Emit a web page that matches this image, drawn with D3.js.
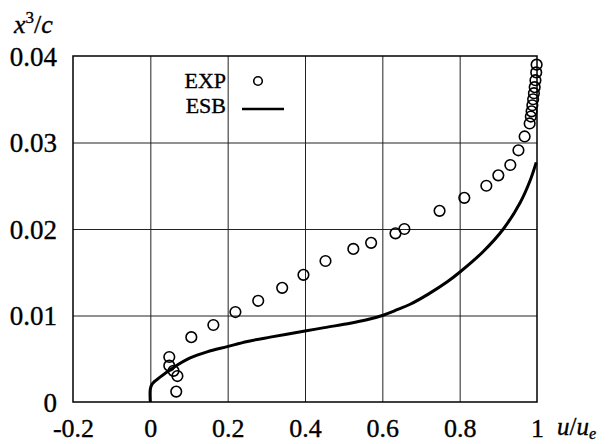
<!DOCTYPE html>
<html>
<head>
<meta charset="utf-8">
<script src="https://cdn.jsdelivr.net/npm/d3@7"></script>
<style>
  html, body { margin: 0; padding: 0; background: #fff; }
  svg { display: block; }
  text { font-family: "Liberation Serif", "Times New Roman", serif; fill: #000; stroke: #000; stroke-width: 0.35px; }
</style>
</head>
<body>
<svg id="chart" width="610" height="444"></svg>
<script>
// Velocity profile: experiment vs. ESB computation
const xTicks = [-0.2, 0, 0.2, 0.4, 0.6, 0.8, 1];
const xTickLabels = ["-0.2", "0", "0.2", "0.4", "0.6", "0.8", "1"];
const yTicks = [0, 0.01, 0.02, 0.03, 0.04];
const yTickLabels = ["0", "0.01", "0.02", "0.03", "0.04"];
const seriesNames = ["EXP", "ESB"];

// EXP measurements (u/ue, x3/c)
const expU = [0.067, 0.070, 0.060, 0.049, 0.049, 0.106, 0.163, 0.220, 0.279, 0.341, 0.396,
              0.453, 0.525, 0.571, 0.634, 0.657, 0.748, 0.812, 0.869, 0.900, 0.931, 0.952,
              0.968, 0.981, 0.984, 0.986, 0.988, 0.990, 0.992, 0.994, 0.996, 0.998, 0.999];
const expY = [0.0012, 0.0030, 0.0036, 0.0042, 0.0052, 0.0075, 0.0089, 0.0104, 0.0117, 0.0132, 0.0147,
              0.0163, 0.0177, 0.0184, 0.0195, 0.0200, 0.0221, 0.0236, 0.0250, 0.0262, 0.0274, 0.0291,
              0.0307, 0.0322, 0.0330, 0.0336, 0.0343, 0.0350, 0.0357, 0.0364, 0.0372, 0.0381, 0.0390];

// ESB computed profile
const esbU = [0.000, 0.000, 0.005, 0.026, 0.060, 0.103, 0.147, 0.199, 0.251, 0.310, 0.400,
              0.450, 0.517, 0.560, 0.600, 0.640, 0.672, 0.720, 0.768, 0.800, 0.861, 0.913,
              0.957, 0.983, 0.998];
const esbY = [0.0000, 0.0015, 0.0021, 0.0029, 0.0040, 0.0051, 0.0058, 0.0064, 0.0070, 0.0075, 0.0082,
              0.0086, 0.0091, 0.0095, 0.0100, 0.0107, 0.0113, 0.0125, 0.0139, 0.0150, 0.0174, 0.0200,
              0.0231, 0.0257, 0.0277];

const svg = d3.select("#chart");
const plotL = 73, plotR = 537, plotT = 56, plotB = 402;
const serif = "'Liberation Serif', 'Times New Roman', serif";

const x = d3.scaleLinear().domain([-0.2, 1]).range([plotL, plotR]);
const y = d3.scaleLinear().domain([0, 0.04]).range([plotB, plotT]);

// grid
const grid = svg.append("g").attr("class", "grid");
grid.append("g")
  .attr("transform", `translate(0,${plotB})`)
  .call(d3.axisBottom(x).tickValues(xTicks.slice(1, -1)).tickSize(-(plotB - plotT)).tickFormat(""))
  .call(g => g.select(".domain").remove())
  .call(g => g.selectAll("line").attr("stroke", "#222").attr("stroke-width", 1));
grid.append("g")
  .attr("transform", `translate(${plotL},0)`)
  .call(d3.axisLeft(y).tickValues(yTicks.slice(1, -1)).tickSize(-(plotR - plotL)).tickFormat(""))
  .call(g => g.select(".domain").remove())
  .call(g => g.selectAll("line").attr("stroke", "#222").attr("stroke-width", 1));

// frame
svg.append("rect")
  .attr("x", plotL).attr("y", plotT)
  .attr("width", plotR - plotL).attr("height", plotB - plotT)
  .attr("fill", "none").attr("stroke", "#000").attr("stroke-width", 1.5);

// tick labels
const xAxis = svg.append("g")
  .attr("transform", `translate(0,${plotB})`)
  .call(d3.axisBottom(x).tickValues(xTicks).tickSize(0).tickPadding(0)
    .tickFormat((d, i) => xTickLabels[i]))
  .attr("font-family", serif).attr("font-size", 26);
xAxis.select(".domain").remove();
xAxis.selectAll("text")
  .attr("dy", null).attr("y", 35)
  .style("font-family", serif).style("font-size", "26px");

const yAxis = svg.append("g")
  .attr("transform", `translate(${plotL},0)`)
  .call(d3.axisLeft(y).tickValues(yTicks).tickSize(0).tickPadding(16)
    .tickFormat((d, i) => yTickLabels[i]))
  .attr("font-family", serif).attr("font-size", 27);
yAxis.select(".domain").remove();
yAxis.selectAll("text")
  .attr("dy", "0.34em")
  .style("font-family", serif).style("font-size", "27px");

// axis titles
const yt = svg.append("text").attr("x", 14).attr("y", 33).style("font-size", "26px");
yt.append("tspan").style("font-style", "italic").text("x");
yt.append("tspan").attr("dy", -10).style("font-size", "17px").text("3");
yt.append("tspan").attr("dy", 10).text("/");
yt.append("tspan").style("font-style", "italic").text("c");

const xt = svg.append("text").attr("x", 557).attr("y", 435).style("font-size", "25px");
xt.append("tspan").style("font-style", "italic").text("u");
xt.append("tspan").text("/");
xt.append("tspan").style("font-style", "italic").text("u");
xt.append("tspan").attr("dy", 4).style("font-size", "16px").style("font-style", "italic").text("e");

// ESB line
const esb = esbU.map((u, i) => [u, esbY[i]]);
svg.append("path")
  .datum(esb)
  .attr("fill", "none").attr("stroke", "#000").attr("stroke-width", 3)
  .attr("stroke-linejoin", "round")
  .attr("d", d3.line().x(d => x(d[0])).y(d => y(d[1])).curve(d3.curveCatmullRom));

// EXP points
const exp = expU.map((u, i) => [u, expY[i]]);
svg.append("g").selectAll("circle")
  .data(exp).join("circle")
  .attr("cx", d => x(d[0])).attr("cy", d => y(d[1]))
  .attr("r", 5.3)
  .attr("fill", "none").attr("stroke", "#000").attr("stroke-width", 1.6);

// legend: labels stacked in one text block, symbols to the right
const lg = svg.append("g");
const lgText = lg.append("text").attr("text-anchor", "end").style("font-size", "22px");
seriesNames.forEach((name, i) => {
  lgText.append("tspan").attr("x", 226).attr("y", 88 + i * 25).text(name);
});
lg.append("circle").attr("cx", 258).attr("cy", 81).attr("r", 4.3)
  .attr("fill", "none").attr("stroke", "#000").attr("stroke-width", 1.6);
lg.append("line").attr("x1", 242).attr("x2", 284).attr("y1", 109).attr("y2", 109)
  .attr("stroke", "#000").attr("stroke-width", 2.5);
</script>
</body>
</html>
